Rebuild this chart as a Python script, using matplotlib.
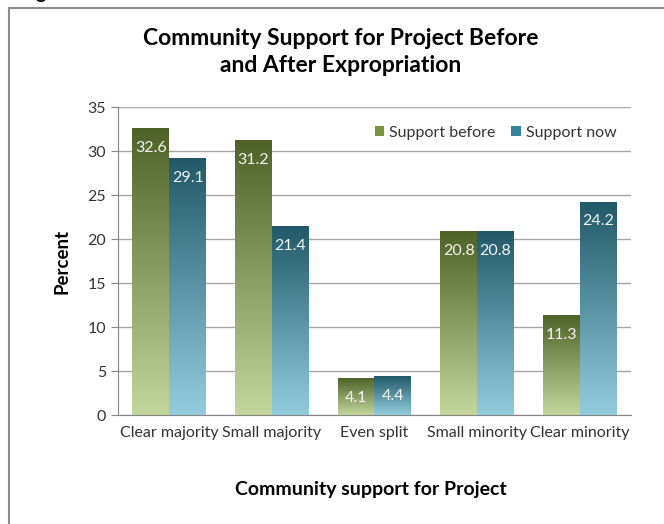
import numpy as np
import matplotlib
matplotlib.use("Agg")
import matplotlib.pyplot as plt
from matplotlib.colors import LinearSegmentedColormap
from matplotlib.patches import Patch, Rectangle

categories = ['Clear majority', 'Small majority', 'Even split', 'Small minority', 'Clear minority']
support_before = [32.6, 31.2, 4.1, 20.8, 11.3]
support_now = [29.1, 21.4, 4.4, 20.8, 24.2]
series_names = ['Support before', 'Support now']

plt.rcParams['font.family'] = ['Lato', 'DejaVu Sans']

fig = plt.figure(figsize=(6.64, 5.24), dpi=100)
ax = fig.add_axes([0.1777, 0.208, 0.7726, 0.5878])

green = LinearSegmentedColormap.from_list('g', ['#C3D69B', '#4F6228'])
blue = LinearSegmentedColormap.from_list('b', ['#93CDDD', '#215968'])

x = np.arange(len(categories))
width = 0.36
grad = np.linspace(0, 1, 256).reshape(-1, 1)

def gradient_bars(xpos, vals, cmap):
    bars = ax.bar(xpos, vals, width=width, color='none', edgecolor='none', zorder=2)
    for b in bars:
        x0, h = b.get_x(), b.get_height()
        ax.imshow(grad, cmap=cmap, origin='lower', aspect='auto',
                  extent=[x0, x0 + width, 0, h], zorder=2)
        ax.annotate(f'{h:.1f}', (x0 + width / 2, h), xytext=(0, -14),
                    textcoords='offset points', ha='center', va='center',
                    color='#F4F4F4', fontsize=11.5, zorder=4)
    return bars

gradient_bars(x - width / 2, support_before, green)
gradient_bars(x + width / 2, support_now, blue)

ax.set_xlim(-0.5, len(categories) - 0.5)
ax.set_ylim(0, 35)
ax.set_yticks(np.arange(0, 36, 5))
ax.set_xticks(x)
ax.set_xticklabels(categories, fontsize=11.5, color='#333333')
ax.tick_params(axis='y', labelsize=11.5, labelcolor='#333333', color='#868686', length=5)
ax.tick_params(axis='x', length=0, pad=8)
ax.yaxis.grid(True, color='#A6A6A6', lw=1)
ax.set_axisbelow(True)
for s in ['top', 'right']:
    ax.spines[s].set_visible(False)
for s in ['left', 'bottom']:
    ax.spines[s].set_color('#868686')

ax.set_ylabel('Percent', fontsize=13.5, fontweight='bold', labelpad=12)
fig.text(371 / 664, 1 - 490 / 524, 'Community support for Project', ha='center',
         va='center', fontsize=14, fontweight='bold')
fig.text(341 / 664, 1 - 52 / 524, 'Community Support for Project Before\nand After Expropriation',
         ha='center', va='center', fontsize=16.5, fontweight='bold', linespacing=1.3)

handles = [Patch(facecolor='#77933C', edgecolor='none'),
           Patch(facecolor='#31859C', edgecolor='none')]
ax.legend(handles, series_names, loc='upper right', ncol=2, frameon=False,
          fontsize=11.5, handlelength=0.6, handleheight=0.6, handletextpad=0.3,
          columnspacing=1.0, bbox_to_anchor=(1.0, 0.985), labelcolor='#333333')

# outer frame of the figure box
fig.patches.append(Rectangle((8.5 / 664, -0.1), 1.2, 1.1 - 8.5 / 524, transform=fig.transFigure,
                             fill=False, edgecolor='#8C8C8C', lw=1.5))
fig.text(20 / 664, 1.0 + 1 / 524, 'Figure 3', ha='left', va='baseline',
         fontsize=14, fontweight='bold')

fig.savefig('out.png', dpi=100)
